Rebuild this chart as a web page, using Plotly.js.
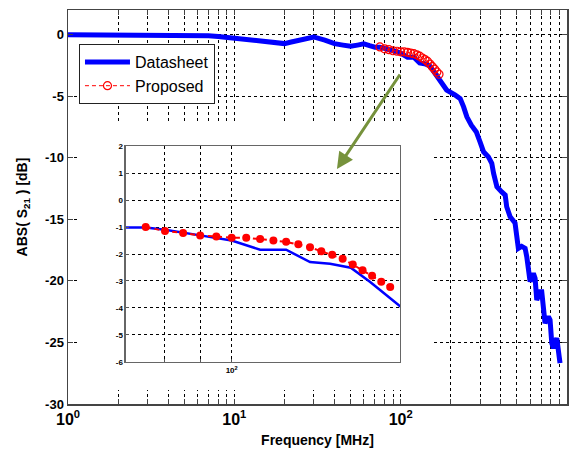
<!DOCTYPE html>
<html>
<head>
<meta charset="utf-8">
<script src="https://cdn.plot.ly/plotly-3.0.1.min.js"></script>
<style>html,body{margin:0;padding:0;background:#fff;}#chart{width:579px;height:451px;}</style>
</head>
<body>
<div id="chart"></div>
<script>
// Datasheet curve (frequency in MHz, |S21| in dB)
var dsFreq = [1, 2, 3, 4, 5, 6, 7, 8, 10, 12, 14, 16, 18, 20, 22, 25, 30, 35, 40, 45, 50, 55, 60, 65,
  70, 75, 80, 90, 100, 110, 120, 130, 139, 149, 152, 159, 175, 189, 212, 228, 239, 250, 266, 285,
  300, 315, 337, 353, 362, 379, 405, 425, 434, 455, 487, 499, 510, 534, 560, 573, 586, 600, 628,
  643, 658, 690, 705, 721, 738, 773, 791, 810, 829, 868, 888, 908];
var dsDb = [0, 0, 0, 0, -0.02, -0.06, -0.1, -0.15, -0.3, -0.38, -0.45, -0.52, -0.62, -0.73, -0.6, -0.4,
  -0.19, -0.45, -0.73, -0.85, -0.95, -0.85, -0.75, -0.9,
  -1.02, -1.02, -1.1, -1.31, -1.5, -1.84, -1.84, -2.30, -2.36, -2.51, -2.67, -3.04, -3.9, -4.5, -4.9,
  -5.2, -5.87, -6.68, -7.36, -7.9, -8.71, -9.52, -9.93, -10.46, -11.27, -12.36, -12.77, -13.03,
  -13.98, -14.79, -15.3, -16.2, -17.36, -17.2, -17.36, -18.04, -18.85, -20.06, -19.38, -19.79,
  -21.55, -20.88, -20.88, -22.36, -23.44, -22.9, -23.17, -25.06, -25.47, -24.65, -25.6, -26.68];

// Proposed model
var prFreq = [75, 80, 85, 90, 95, 100, 105, 110, 115, 120, 125, 130, 135, 140, 145, 150, 155, 160, 165, 170];
var prDb = [-1.00, -1.15, -1.22, -1.31, -1.35, -1.40, -1.40, -1.44, -1.50, -1.55, -1.64, -1.75,
  -1.90, -2.03, -2.18, -2.39, -2.60, -2.81, -3.03, -3.22];

// Tick labels
var mainXTicks = [1,2,3,4,5,6,7,8,9,10,20,30,40,50,60,70,80,90,100,200,300,400,500,600,700,800,900,1000];
var mainXText = ['10<sup>0</sup>','','','','','','','','','10<sup>1</sup>','','','','','','','','',
  '10<sup>2</sup>','','','','','','','','','10<sup>3</sup>'];
var mainYTicks = [-30, -25, -20, -15, -10, -5, 0];
var mainYText = ['-30', '-25', '-20', '-15', '-10', '-5', '0'];
var insetXTicks = [80, 90, 100];
var insetXText = ['', '', '10<sup>2</sup>'];
var insetYTicks = [-6, -5, -4, -3, -2, -1, 0, 1, 2];
var insetYText = ['-6', '-5', '-4', '-3', '-2', '-1', '0', '1', '2'];

var FONT = 'Liberation Sans, Arial, sans-serif';
var gridDash = '3px,3px';

var traces = [
  {x: dsFreq, y: dsDb, type: 'scatter', mode: 'lines', name: 'Datasheet',
   line: {color: '#0000ff', width: 5}, xaxis: 'x', yaxis: 'y'},
  {x: prFreq, y: prDb, type: 'scatter', mode: 'lines+markers', name: 'Proposed',
   line: {color: '#ff0000', width: 1, dash: '4px,3px'},
   marker: {symbol: 'circle-open', size: 8, color: '#ff0000', line: {width: 1.2, color: '#ff0000'}},
   xaxis: 'x', yaxis: 'y'},
  // white backing block for the inset (empty)
  {x: [], y: [], type: 'scatter', mode: 'lines', showlegend: false, hoverinfo: 'skip',
   xaxis: 'x2', yaxis: 'y2'},
  {x: dsFreq, y: dsDb, type: 'scatter', mode: 'lines', showlegend: false,
   line: {color: '#0000ff', width: 2.5}, xaxis: 'x3', yaxis: 'y3'},
  {x: prFreq, y: prDb, type: 'scatter', mode: 'lines+markers', showlegend: false,
   line: {color: '#ff0000', width: 2, dash: '5px,4px'},
   marker: {symbol: 'circle', size: 8, color: '#ff0000'},
   xaxis: 'x3', yaxis: 'y3'}
];

var layout = {
  width: 579, height: 451,
  margin: {l: 68, r: 12, t: 10, b: 47},
  paper_bgcolor: '#ffffff', plot_bgcolor: '#ffffff',
  font: {family: FONT, color: '#000'},
  showlegend: true,
  legend: {x: 0.022, y: 0.9137, xanchor: 'left', yanchor: 'top', bgcolor: '#ffffff',
    bordercolor: '#222', borderwidth: 1, font: {family: FONT, size: 16, color: '#000'},
    tracegroupgap: 0, itemwidth: 45},
  xaxis: {type: 'log', range: [0, 3], tickvals: mainXTicks, ticktext: mainXText,
    showgrid: true, gridcolor: '#000', griddash: gridDash, gridwidth: 1,
    ticks: 'inside', ticklen: 5, tickcolor: '#444', showline: true, linecolor: '#444',
    linewidth: 1.5, mirror: 'ticks', zeroline: false,
    tickfont: {family: FONT, size: 16, weight: 'bold', color: '#000'},
    title: {text: 'Frequency [MHz]', standoff: 8, font: {family: FONT, size: 14, weight: 'bold', color: '#000'}}},
  yaxis: {range: [-30, 2], tickvals: mainYTicks, ticktext: mainYText, showgrid: true, gridcolor: '#000',
    griddash: gridDash, gridwidth: 1, ticks: 'inside', ticklen: 5, tickcolor: '#444',
    showline: true, linecolor: '#444', linewidth: 1.5, mirror: 'ticks', zeroline: false,
    tickfont: {family: FONT, size: 13, weight: 'bold', color: '#000'},
    title: {text: 'ABS( S<sub>21</sub> ) [dB]', standoff: 14, font: {family: FONT, size: 14, weight: 'bold', color: '#000'}}},
  xaxis2: {domain: [0.02, 0.7295], anchor: 'y2', visible: false, range: [0, 1]},
  yaxis2: {domain: [0.0355, 0.7157], anchor: 'x2', visible: false, range: [0, 1]},
  xaxis3: {domain: [0.1162, 0.6653], anchor: 'y3', type: 'log', range: [1.8464, 2.2447],
    tickvals: insetXTicks, ticktext: insetXText, showgrid: true, gridcolor: '#000',
    griddash: gridDash, gridwidth: 1, ticks: 'inside', ticklen: 3, tickcolor: '#555',
    showline: true, linecolor: '#666', linewidth: 1.5, mirror: true, zeroline: false,
    tickfont: {family: FONT, size: 8, weight: 'bold', color: '#000'}},
  yaxis3: {domain: [0.1066, 0.6548], anchor: 'x3', range: [-6, 2], tickvals: insetYTicks,
    ticktext: insetYText,
    showgrid: true, gridcolor: '#000', griddash: gridDash, gridwidth: 1,
    ticks: 'inside', ticklen: 3, tickcolor: '#555', showline: true, linecolor: '#666',
    linewidth: 1.5, mirror: true, zeroline: false,
    tickfont: {family: FONT, size: 8, weight: 'bold', color: '#000'}},
  annotations: [{
    xref: 'paper', yref: 'paper', x: 0.539, y: 0.5964, text: '', showarrow: true,
    ax: 64, ay: -96, arrowcolor: '#76923C', arrowwidth: 3, arrowhead: 2, arrowsize: 1.1
  }]
};

Plotly.newPlot('chart', traces, layout, {displayModeBar: false, staticPlot: true});
</script>
</body>
</html>
